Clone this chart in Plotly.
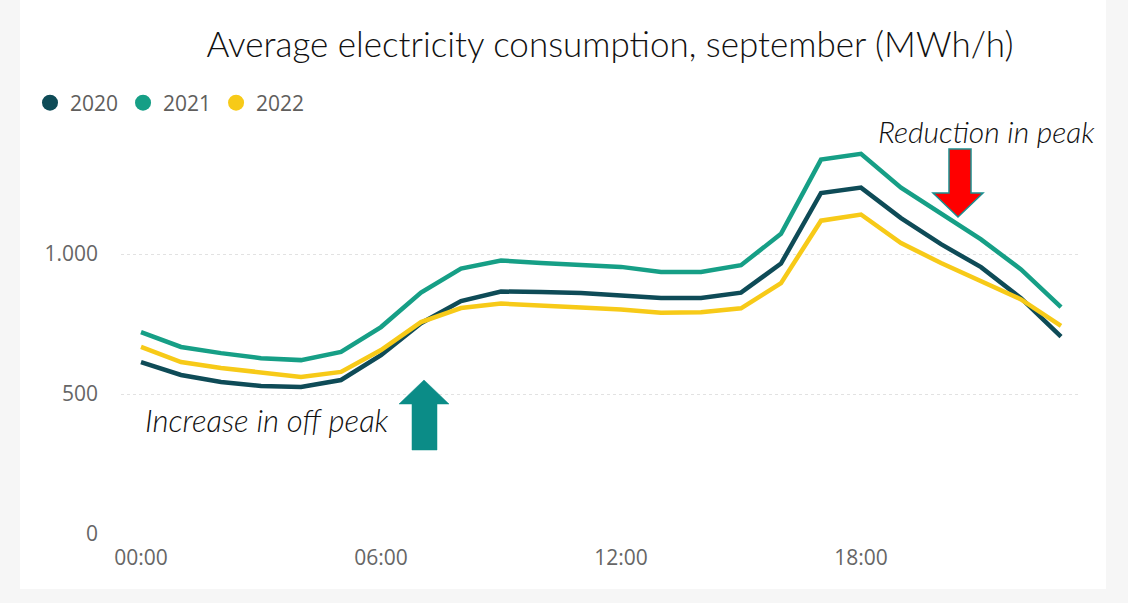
import plotly.graph_objects as go

# ---- data ----
hours = list(range(24))
tick_hours = [0, 6, 12, 18]
tick_labels = ["00:00", "06:00", "12:00", "18:00"]
y_ticks = [0, 500, 1000]
y_tick_labels = ["0", "500", "1.000"]

series_names = ["2020", "2021", "2022"]
v2020 = [614, 568, 543, 529, 525, 550, 639, 753, 832, 866, 864, 861,
         852, 843, 843, 862, 966, 1218, 1237, 1128, 1035, 953, 842, 705]
v2021 = [721, 668, 646, 628, 621, 650, 739, 862, 948, 977, 968, 961,
         954, 936, 936, 960, 1072, 1337, 1358, 1237, 1145, 1052, 945, 810]
v2022 = [668, 614, 593, 575, 561, 579, 657, 757, 807, 823, 814, 809,
         802, 790, 792, 806, 896, 1119, 1141, 1039, 968, 905, 838, 743]

colors = ["#0e4b57", "#169f86", "#f7ca18"]

W, H = 1128, 603
L, R, T, B = 121, 47, 114, 69
XR = [-0.5, 23.5]
YR = [0, 1500]


def px(xp, yp):
    """pixel -> paper coordinates"""
    return (xp - L) / (W - L - R), (H - B - yp) / (H - T - B)


def path(points):
    pts = [px(a, b) for a, b in points]
    s = "M " + " L ".join(f"{a:.5f},{b:.5f}" for a, b in pts) + " Z"
    return s


fig = go.Figure()
for name, vals, c in zip(series_names, [v2020, v2021, v2022], colors):
    fig.add_trace(go.Scatter(x=hours, y=vals, mode="lines", name=name,
                             line=dict(color=c, width=4.5),
                             showlegend=False, hoverinfo="x+y+name"))
for name, c in zip(series_names, colors):
    fig.add_trace(go.Scatter(x=[None], y=[None], mode="markers", name=name,
                             marker=dict(color=c, size=19, symbol="circle"),
                             showlegend=True))

shapes = []
# faint outer frame
frame = "#f6f6f6"
for (x0, y0, x1, y1) in [(0, 0, 20, H), (0, 589, W, H), (1106, 0, W, H)]:
    a0, b0 = px(x0, y1)
    a1, b1 = px(x1, y0)
    shapes.append(dict(type="rect", xref="paper", yref="paper", x0=a0, y0=b0,
                       x1=a1, y1=b1, fillcolor=frame, line=dict(width=0),
                       layer="below"))
# red arrow (down)
shapes.append(dict(type="path", xref="paper", yref="paper",
                   path=path([(949, 149), (971, 149), (971, 193), (983, 193),
                              (958, 217), (933, 193), (949, 193)]),
                   fillcolor="#ff0000", line=dict(color="#1a8f8f", width=1.5)))
# teal arrow (up)
shapes.append(dict(type="path", xref="paper", yref="paper",
                   path=path([(424, 380), (449, 404), (437, 404), (437, 450),
                              (412, 450), (412, 404), (399, 404)]),
                   fillcolor="#0b8c87", line=dict(color="#0b8c87", width=0.5)))

ax1, ay1 = px(876, 131)
ax2, ay2 = px(143, 420)
annotations = [
    dict(text="Reduction in peak", xref="paper", yref="paper", x=ax1, y=ay1,
         xanchor="left", yanchor="middle", showarrow=False,
         font=dict(family="Lato", size=30, color="#111111", style="italic",
                   weight=300)),
    dict(text="Increase in off peak", xref="paper", yref="paper", x=ax2, y=ay2,
         xanchor="left", yanchor="middle", showarrow=False,
         font=dict(family="Lato", size=31, color="#111111", style="italic",
                   weight=300)),
]

fig.update_layout(
    width=W, height=H,
    margin=dict(l=L, r=R, t=T, b=B, autoexpand=False),
    paper_bgcolor="white", plot_bgcolor="white",
    title=dict(text="Average electricity consumption, september (MWh/h)",
               xref="container", yref="container", x=610 / W, y=1 - 45 / H,
               xanchor="center", yanchor="middle",
               font=dict(family="Lato", size=35, color="#111111", weight=300)),
    legend=dict(orientation="h", xref="container", yref="container",
                x=30 / W, y=1 - 103 / H, xanchor="left", yanchor="middle",
                font=dict(family="Open Sans", size=21, color="#605e5c"),
                itemwidth=30, bgcolor="rgba(0,0,0,0)"),
    xaxis=dict(range=XR, tickvals=tick_hours, ticktext=tick_labels,
               showgrid=False, zeroline=False, showline=False, ticks="",
               automargin=False,
               tickfont=dict(family="Open Sans", size=21, color="#666666"),
               ticklabelstandoff=9),
    yaxis=dict(range=YR, tickvals=y_ticks, ticktext=y_tick_labels,
               showgrid=True, gridcolor="#e2e2e2", griddash="dot", gridwidth=1,
               zeroline=False, showline=False, ticks="", automargin=False,
               tickfont=dict(family="Open Sans", size=21, color="#666666"),
               ticklabelstandoff=22),
    shapes=shapes, annotations=annotations,
    showlegend=True,
)

fig.write_html("out.html")
